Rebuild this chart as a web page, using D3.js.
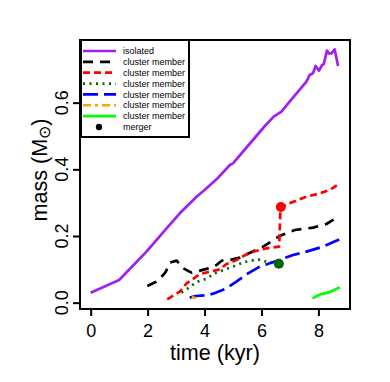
<!DOCTYPE html>
<html>
<head>
<meta charset="utf-8">
<script src="https://cdn.jsdelivr.net/npm/d3@7"></script>
<style>
body { margin: 0; background: #fff; }
text { font-family: "Liberation Sans", Arial, sans-serif; }
</style>
</head>
<body>
<script>
// mass tracks, [time (kyr), mass (Msun)]
var isolated = [[0,0.03],[1.0,0.068],[1.96,0.153],[2.72,0.228],[3.13,0.268],[3.72,0.318],[4.0,0.338],
  [4.42,0.37],[4.89,0.413],[5.0,0.418],[5.7,0.488],[6.12,0.53],[6.43,0.558],[6.7,0.573],[6.99,0.603],
  [7.58,0.663],[7.69,0.683],[7.81,0.688],[7.9,0.71],[8.02,0.696],[8.13,0.713],[8.19,0.716],[8.3,0.756],
  [8.37,0.748],[8.46,0.748],[8.57,0.76],[8.69,0.71]];
var member1 = [[1.99,0.05],[2.3,0.063],[2.55,0.083],[2.64,0.093],[2.78,0.12],[3.02,0.126],[3.25,0.103],
  [3.54,0.09],[3.84,0.096],[4.13,0.103],[4.42,0.113],[4.6,0.126],[4.89,0.128],[5.24,0.135],[5.6,0.15],
  [6.06,0.168],[6.64,0.2],[7.17,0.218],[7.81,0.225],[8.28,0.236],[8.61,0.253]];
var member2 = [[2.69,0.01],[3.13,0.033],[3.37,0.058],[3.54,0.068],[3.84,0.086],[4.19,0.093],[4.54,0.1],
  [4.77,0.116],[5.12,0.128],[5.53,0.148],[5.8,0.155],[6.18,0.163],[6.62,0.168],[6.67,0.287],
  [6.99,0.298],[7.58,0.318],[8.05,0.328],[8.4,0.338],[8.72,0.356]];
var member3 = [[3.19,0.03],[3.4,0.042],[3.72,0.062],[4.07,0.072],[4.35,0.088],[4.89,0.105],[5.41,0.122],
  [5.82,0.129],[6.0,0.129],[6.18,0.122],[6.62,0.117]];
var member4 = [[3.48,0.015],[3.7,0.02],[4.07,0.022],[4.3,0.027],[4.77,0.043],[5.12,0.063],[5.53,0.088],
  [5.94,0.108],[6.62,0.128],[7.11,0.143],[7.58,0.153],[8.16,0.168],[8.75,0.19]];
var member5 = [[3.55,0.017],[3.7,0.013]];
var member6 = [[7.79,0.013],[7.95,0.02],[8.1,0.026],[8.34,0.03],[8.5,0.036],[8.75,0.046]];
var mergers = [[6.68,0.287],[6.61,0.117]];

var seriesColors = ["#A020F0","#000000","#FF0000","#006400","#0000FF","#FFA500","#00FF00"];
var seriesDash = ["none","10,7","7,4","2,4.5","15,6","8,4,3,4","none"];
var mergerColors = ["#FF0000","#006400"];
var legendLabels = ["isolated","cluster member","cluster member","cluster member",
  "cluster member","cluster member","cluster member","merger"];
var xTicks = [0,2,4,6,8];
var yTicks = [0,0.2,0.4,0.6];

var tracks = [isolated, member1, member2, member3, member4, member5, member6];

var width = 390, height = 382;
var box = { left: 80, right: 350, top: 40, bottom: 309 };

var svg = d3.select("body").append("svg")
    .attr("width", width)
    .attr("height", height);

var x = d3.scaleLinear().domain([-0.375, 9.11]).range([box.left, box.right]);
var y = d3.scaleLinear().domain([-0.019, 0.788]).range([box.bottom, box.top]);

var line = d3.line().x(d => x(d[0])).y(d => y(d[1]));

svg.selectAll("path.track")
    .data(tracks)
    .enter().append("path")
    .attr("class", "track")
    .attr("d", line)
    .style("fill", "none")
    .style("stroke", (d, i) => seriesColors[i])
    .style("stroke-width", 2.7)
    .style("stroke-dasharray", (d, i) => seriesDash[i])
    .style("stroke-linejoin", "round");

svg.selectAll("circle.merger")
    .data(mergers)
    .enter().append("circle")
    .attr("class", "merger")
    .attr("cx", d => x(d[0]))
    .attr("cy", d => y(d[1]))
    .attr("r", 5)
    .style("fill", (d, i) => mergerColors[i]);

// x axis
var xAxis = svg.append("g")
    .attr("transform", "translate(0," + box.bottom + ")")
    .call(d3.axisBottom(x).tickValues(xTicks).tickSize(7).tickPadding(8).tickFormat(d3.format("d")));
xAxis.select(".domain").remove();
xAxis.selectAll("line").style("stroke-width", 2);
xAxis.selectAll("text").style("font-size", "18px").style("font-family", "Liberation Sans, Arial, sans-serif");

// y axis, labels rotated like base R
var yAxis = svg.append("g")
    .attr("transform", "translate(" + box.left + ",0)")
    .call(d3.axisLeft(y).tickValues(yTicks).tickSize(7).tickFormat(""));
yAxis.select(".domain").remove();
yAxis.selectAll("line").style("stroke-width", 2);

svg.selectAll("text.ylab")
    .data(yTicks)
    .enter().append("text")
    .attr("class", "ylab")
    .attr("transform", d => "translate(62," + y(d) + ") rotate(-90)")
    .attr("dy", "0.35em")
    .attr("text-anchor", "middle")
    .style("font-size", "18px")
    .text(d3.format(".1f"));

// plot box
svg.append("rect")
    .attr("x", box.left).attr("y", box.top)
    .attr("width", box.right - box.left).attr("height", box.bottom - box.top)
    .style("fill", "none").style("stroke", "#000").style("stroke-width", 2);

svg.append("text")
    .attr("x", (box.left + box.right) / 2)
    .attr("y", 360)
    .attr("text-anchor", "middle")
    .style("font-size", "21.6px")
    .text("time (kyr)");

var ytitle = svg.append("text")
    .attr("transform", "translate(47,170) rotate(-90)")
    .attr("text-anchor", "middle")
    .style("font-size", "21.6px");
ytitle.append("tspan").text("mass (M");
ytitle.append("tspan").attr("dy", 3).style("font-size", "16px").text("\u2299");
ytitle.append("tspan").attr("dy", -3).text(")");

// legend
var legend = svg.append("g");
legend.append("rect")
    .attr("x", 81).attr("y", 40).attr("width", 108).attr("height", 97)
    .style("fill", "#fff").style("stroke", "#000").style("stroke-width", 2);

var rows = legend.selectAll("g.row")
    .data(legendLabels)
    .enter().append("g")
    .attr("class", "row")
    .attr("transform", (d, i) => "translate(0," + (51 + i * 10.85) + ")");

rows.filter((d, i) => i < 7).append("line")
    .attr("x1", 83).attr("x2", 116)
    .style("stroke", (d, i) => seriesColors[i])
    .style("stroke-width", 2.7)
    .style("stroke-dasharray", (d, i) => seriesDash[i]);
rows.filter((d, i) => i === 7).append("circle")
    .attr("cx", 99).attr("r", 3.2).style("fill", "#000");
rows.append("text")
    .attr("x", 123)
    .attr("dy", "0.35em")
    .style("font-size", "9px")
    .text(d => d);
</script>
</body>
</html>
